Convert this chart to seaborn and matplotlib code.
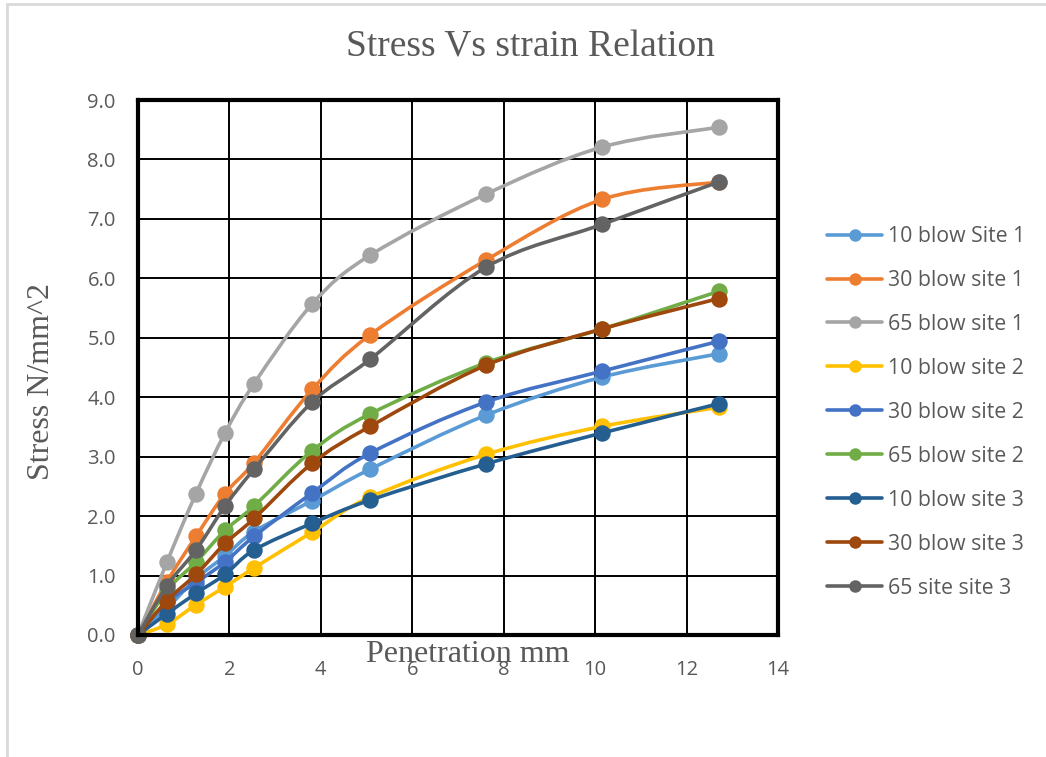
import numpy as np
import pandas as pd
import matplotlib
matplotlib.use("Agg")
import matplotlib.pyplot as plt
import seaborn as sns
from matplotlib.path import Path
from matplotlib.patches import PathPatch, Rectangle
from matplotlib.lines import Line2D

# Penetration (mm) and stress (N/mm^2) for each test series
penetration = [0, 0.635, 1.27, 1.905, 2.54, 3.81, 5.08, 7.62, 10.16, 12.7]

blow10_site1 = [0, 0.45, 0.95, 1.33, 1.74, 2.26, 2.79, 3.70, 4.34, 4.73]
blow30_site1 = [0, 0.90, 1.66, 2.38, 2.90, 4.13, 5.05, 6.31, 7.33, 7.62]
blow65_site1 = [0, 1.23, 2.38, 3.40, 4.23, 5.57, 6.39, 7.42, 8.21, 8.54]
blow10_site2 = [0, 0.18, 0.51, 0.81, 1.13, 1.73, 2.32, 3.04, 3.51, 3.83]
blow30_site2 = [0, 0.55, 0.88, 1.23, 1.66, 2.39, 3.06, 3.92, 4.44, 4.94]
blow65_site2 = [0, 0.75, 1.23, 1.76, 2.17, 3.10, 3.72, 4.58, 5.15, 5.78]
blow10_site3 = [0, 0.36, 0.70, 1.02, 1.43, 1.88, 2.27, 2.88, 3.40, 3.89]
blow30_site3 = [0, 0.58, 1.02, 1.54, 1.96, 2.89, 3.51, 4.54, 5.15, 5.66]
blow65_site3 = [0, 0.83, 1.43, 2.17, 2.79, 3.92, 4.64, 6.19, 6.91, 7.62]

series_names = ["10 blow Site 1", "30 blow site 1", "65 blow site 1",
                "10 blow site 2", "30 blow site 2", "65 blow site 2",
                "10 blow site 3", "30 blow site 3", "65 site site 3"]
series_values = [blow10_site1, blow30_site1, blow65_site1,
                 blow10_site2, blow30_site2, blow65_site2,
                 blow10_site3, blow30_site3, blow65_site3]
series_colors = ["#5B9BD5", "#ED7D31", "#A5A5A5",
                 "#FFC000", "#4472C4", "#70AD47",
                 "#255E91", "#9E480E", "#636363"]

x_ticks = [0, 2, 4, 6, 8, 10, 12, 14]
y_ticks = [0, 1, 2, 3, 4, 5, 6, 7, 8, 9]

rows = []
for name, vals in zip(series_names, series_values):
    for x, y in zip(penetration, vals):
        rows.append({"Penetration": x, "Stress": y, "Series": name})
df = pd.DataFrame(rows)

sns.set_theme(style="white")
plt.rcParams["font.family"] = ["DejaVu Sans"]

fig = plt.figure(figsize=(10.46, 7.57), dpi=100)
ax = fig.add_axes([138 / 1046, 1 - 635 / 757, 640 / 1046, 535 / 757])

# outer chart frame
fig.patches.append(Rectangle((7 / 1046, -0.05), 1.1, 1 - 4 / 757 + 0.05,
                             transform=fig.transFigure, fill=False,
                             edgecolor="#D9D9D9", linewidth=2, zorder=0))


def smooth_path(xs, ys):
    """Cubic Bezier path through the points (Catmull-Rom style control points)."""
    pts = np.column_stack([xs, ys]).astype(float)
    n = len(pts)
    verts = [pts[0]]
    codes = [Path.MOVETO]
    for i in range(n - 1):
        p0 = pts[i - 1] if i > 0 else pts[i]
        p1 = pts[i]
        p2 = pts[i + 1]
        p3 = pts[i + 2] if i + 2 < n else pts[i + 1]
        c1 = p1 + (p2 - p0) / 6.0
        c2 = p2 - (p3 - p1) / 6.0
        verts += [c1, c2, p2]
        codes += [Path.CURVE4] * 3
    return Path(verts, codes)


for k, (name, color) in enumerate(zip(series_names, series_colors)):
    sub = df[df["Series"] == name]
    patch = PathPatch(smooth_path(sub["Penetration"], sub["Stress"]),
                      facecolor="none", edgecolor=color, linewidth=2.6,
                      zorder=3 + 2 * k, capstyle="round", joinstyle="round")
    ax.add_patch(patch)
    sns.scatterplot(data=sub, x="Penetration", y="Stress", color=color,
                    s=140, edgecolor=color, linewidth=0, ax=ax,
                    zorder=4 + 2 * k, legend=False, clip_on=False)

ax.set_xlim(0, 14)
ax.set_ylim(0, 9)
ax.set_xticks(x_ticks)
ax.set_yticks(y_ticks)
ax.set_xticklabels([str(t) for t in x_ticks])
ax.set_yticklabels([f"{t:.1f}" for t in y_ticks])
ax.tick_params(axis="both", length=0, labelsize=14.5, labelcolor="#595959")
ax.tick_params(axis="y", pad=16)
ax.tick_params(axis="x", pad=18)
for lab in ax.get_xticklabels() + ax.get_yticklabels():
    lab.set_family("Open Sans")
ax.set_xlabel("")
ax.set_ylabel("")
ax.grid(True, color="black", linewidth=1.4)
ax.set_axisbelow(True)
for side in ["top", "right", "left", "bottom"]:
    ax.spines[side].set_color("black")
    ax.spines[side].set_linewidth(3)
    ax.spines[side].set_zorder(30)

fig.text(530 / 1046, 1 - 47 / 757, "Stress Vs strain Relation",
         ha="center", va="center", fontsize=27, color="#595959",
         family="Liberation Serif")
fig.text(42 / 1046, 1 - 382 / 757, "Stress N/mm^2", rotation=90,
         ha="center", va="center", fontsize=23, color="#595959",
         family="Liberation Serif")
fig.text(468 / 1046, 1 - 655 / 757, "Penetration mm",
         ha="center", va="center", fontsize=23, color="#595959",
         family="Liberation Serif", zorder=40)

handles = [Line2D([], [], color=c, linewidth=2.6, marker="o", markersize=9,
                  markeredgewidth=0)
           for c in series_colors]
leg = fig.legend(handles, series_names, loc="upper left",
                 bbox_to_anchor=(827 / 1046, 1 - 226 / 757),
                 frameon=False, handlelength=2.6, handletextpad=0.25,
                 labelspacing=1.08, borderaxespad=0, borderpad=0,
                 prop={"family": "Open Sans", "size": 15.3})
for t in leg.get_texts():
    t.set_color("#595959")

fig.savefig("out.png", dpi=100, facecolor="white")
